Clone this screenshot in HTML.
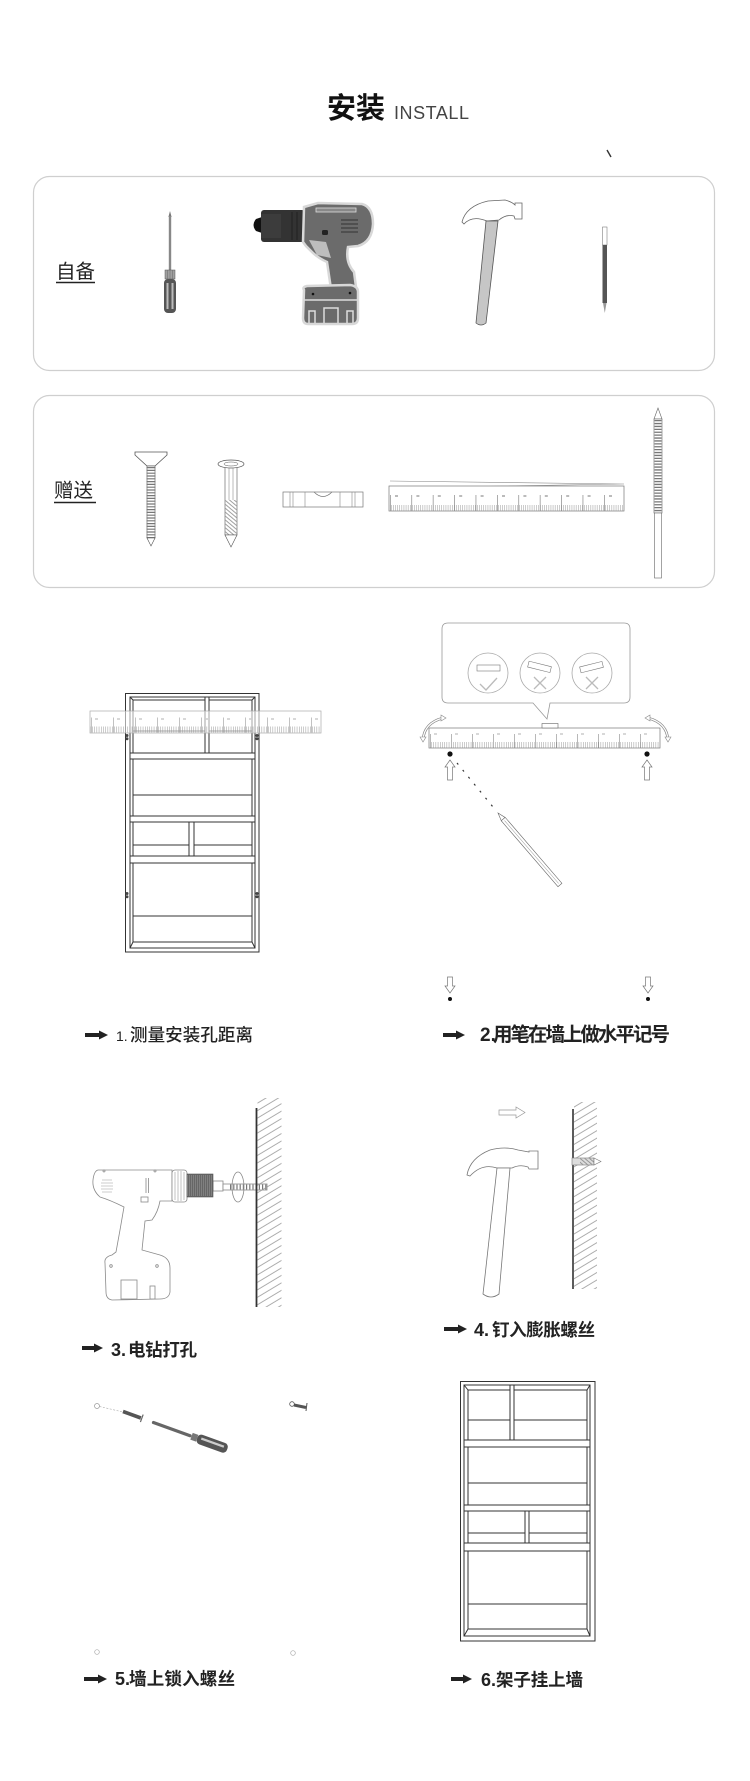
<!DOCTYPE html>
<html><head><meta charset="utf-8">
<style>
html,body{margin:0;padding:0;background:#fff;}
svg{display:block;}
text{font-family:"Liberation Sans","Noto Sans CJK SC",sans-serif;}
.cj{font-family:"Noto Sans CJK SC","WenQuanYi Zen Hei",sans-serif;}
</style></head><body>
<svg width="750" height="1781" viewBox="0 0 750 1781" xmlns="http://www.w3.org/2000/svg">
<defs>
 <pattern id="hatch" width="8" height="6.4" patternUnits="userSpaceOnUse" patternTransform="rotate(-31)">
  <line x1="0" y1="3" x2="8" y2="3" stroke="#999" stroke-width="0.8"/>
 </pattern>
 <pattern id="dh" width="3" height="3" patternUnits="userSpaceOnUse" patternTransform="rotate(40)">
  <line x1="0" y1="1.5" x2="3" y2="1.5" stroke="#777" stroke-width="0.7"/>
 </pattern>
</defs>

<!-- Title -->
<text x="327" y="118" font-size="29" font-weight="bold" fill="#111" class="cj">安装</text>
<text x="394" y="119" font-size="18" fill="#444" textLength="75">INSTALL</text>
<line x1="607" y1="150" x2="611" y2="157" stroke="#333" stroke-width="1.4"/>

<!-- Box 1 -->
<rect x="33.5" y="176.5" width="681" height="194" rx="16" fill="none" stroke="#cfcfcf" stroke-width="1.2"/>
<text x="56" y="278" font-size="19.5" fill="#222" class="cj">自备</text>
<line x1="56" y1="282.5" x2="95" y2="282.5" stroke="#222" stroke-width="1.5"/>

<!-- screwdriver -->
<path d="M170,211 L171.6,217 L168.4,217 Z" fill="#777"/>
<rect x="168.8" y="216" width="2.4" height="56" fill="#888"/>
<rect x="165" y="270" width="10" height="9" fill="#a0a0a0" stroke="#555" stroke-width="0.5"/>
<line x1="167.5" y1="270" x2="167.5" y2="279" stroke="#666" stroke-width="0.5"/>
<line x1="170" y1="270" x2="170" y2="279" stroke="#666" stroke-width="0.5"/>
<line x1="172.5" y1="270" x2="172.5" y2="279" stroke="#666" stroke-width="0.5"/>
<rect x="164" y="279" width="12" height="34" rx="4" fill="#555"/>
<rect x="166.5" y="283" width="2" height="26" fill="#bbb"/>
<rect x="171.5" y="283" width="2" height="26" fill="#bbb"/>

<!-- drill (box 1) -->
<path d="M262,217 L256,219 Q251,225 256,231 L262,233 Z" fill="#111"/>
<rect x="261" y="210" width="44" height="32" rx="3" fill="#333"/>
<rect x="261" y="214" width="20" height="24" fill="#3c3c3c"/>
<line x1="292" y1="212" x2="292" y2="240" stroke="#222" stroke-width="1"/>
<line x1="297" y1="212" x2="297" y2="240" stroke="#222" stroke-width="1"/>
<path d="M304,207 L318,203 L362,204 Q373,207 373,224 Q372,242 358,246 L348,247 Q345,262 354,272 L356,287 L331,289 L327,262 Q318,258 312,252 L306,246 L303,242 Z" fill="#6b6b6b" stroke="#d8d8d8" stroke-width="2.5"/>
<path d="M309,240 L326,242 L331,258 L317,255 Z" fill="#bdbdbd"/>
<rect x="316" y="208" width="40" height="4" fill="#888" stroke="#ddd" stroke-width="0.8"/>
<line x1="341" y1="220" x2="358" y2="220" stroke="#333" stroke-width="1"/>
<line x1="341" y1="224" x2="358" y2="224" stroke="#333" stroke-width="1"/>
<line x1="341" y1="228" x2="358" y2="228" stroke="#333" stroke-width="1"/>
<line x1="341" y1="232" x2="358" y2="232" stroke="#333" stroke-width="1"/>
<rect x="322" y="230" width="6" height="5" rx="1.5" fill="#222"/>
<path d="M304,290 Q302,287 307,286 L350,285 Q358,286 358,292 L358,318 Q358,324 352,324 L308,324 Q303,324 303,318 Z" fill="#6b6b6b" stroke="#d8d8d8" stroke-width="2.5"/>
<line x1="304" y1="300" x2="357" y2="300" stroke="#ddd" stroke-width="1.5"/>
<path d="M309,323 V311 H315 V323 M324,323 V308 H338 V323 M347,323 V311 H353 V323" fill="none" stroke="#ddd" stroke-width="1.5"/>
<circle cx="313" cy="294" r="1.3" fill="#111"/><circle cx="350" cy="293" r="1.3" fill="#111"/>

<!-- hammer (box 1) -->
<path d="M462,222 Q466,206 488,201 L505,200 Q512,202 515,205 L515,203 L522,203 L522,219 L515,219 L514,216 Q506,214 499,220 L487,221 Q472,215 464,224 Z" fill="#fff" stroke="#666" stroke-width="0.8"/>
<path d="M486,221 L498,221 L486,323 Q481,327 476,323 Z" fill="#c6c6c6" stroke="#555" stroke-width="0.8"/>

<!-- pencil -->
<rect x="602.5" y="227" width="4.5" height="18" fill="#fff" stroke="#666" stroke-width="0.5"/>
<rect x="602.5" y="245" width="4.5" height="58" fill="#555"/>
<path d="M603,303 L606.5,303 L604.8,313 Z" fill="#999"/>

<!-- Box 2 -->
<rect x="33.5" y="395.5" width="681" height="192" rx="16" fill="none" stroke="#cfcfcf" stroke-width="1.2"/>
<text x="54" y="497" font-size="19.5" fill="#222" class="cj">赠送</text>
<line x1="54" y1="502.5" x2="96" y2="502.5" stroke="#222" stroke-width="1.5"/>

<!-- screw -->
<path d="M135,452 L167,452 L167,455 L155,466 L147,466 L135,455 Z" fill="#fff" stroke="#555" stroke-width="0.8"/>
<rect x="147" y="466" width="8" height="72" fill="#fff" stroke="#555" stroke-width="0.6"/>
<line x1="151" y1="467" x2="151" y2="538" stroke="#777" stroke-width="9" stroke-dasharray="1.2 1.6"/>
<path d="M147,538 L155,538 L151,546 Z" fill="#fff" stroke="#555" stroke-width="0.6"/>

<!-- anchor -->
<rect x="225" y="467" width="12" height="68" fill="#fff" stroke="#555" stroke-width="0.6"/>
<rect x="225.5" y="500" width="11" height="35" fill="url(#dh)"/>
<line x1="229" y1="467" x2="229" y2="500" stroke="#777" stroke-width="0.5"/>
<line x1="233" y1="467" x2="233" y2="500" stroke="#777" stroke-width="0.5"/>
<ellipse cx="231" cy="464" rx="13" ry="4" fill="#fff" stroke="#555" stroke-width="0.7"/>
<ellipse cx="231" cy="464" rx="7" ry="2" fill="none" stroke="#555" stroke-width="0.5"/>
<path d="M225,535 L237,535 L231,547 Z" fill="#fff" stroke="#555" stroke-width="0.6"/>

<!-- level -->
<rect x="283" y="492" width="80" height="15" fill="#fff" stroke="#777" stroke-width="0.7"/>
<path d="M290,492 V507 M293,492 V507 M305,492 V507 M340,492 V507 M352,492 V507 M355,492 V507" stroke="#888" stroke-width="0.6"/>
<path d="M314,492 Q323,501 332,492" fill="none" stroke="#777" stroke-width="0.7"/>

<!-- ruler box2 -->
<path d="M390,481 L624,484 M390,488 L624,484" stroke="#888" stroke-width="0.6" fill="none"/>
<rect x="389" y="486" width="235" height="25" fill="#fff" stroke="#777" stroke-width="0.7"/>
<line x1="389" y1="508" x2="624" y2="508" stroke="#999" stroke-width="6" stroke-dasharray="0.5 1.6"/>
<line x1="390" y1="503" x2="624" y2="503" stroke="#888" stroke-width="16" stroke-dasharray="0.7 20.7"/>
<line x1="395" y1="496" x2="624" y2="496" stroke="#bbb" stroke-width="2" stroke-dasharray="3 18.4"/>

<!-- long drill bit -->
<path d="M658,408 L662,419 L654,419 Z" fill="#fff" stroke="#666" stroke-width="0.6"/>
<rect x="654" y="419" width="8" height="94" fill="#fff" stroke="#666" stroke-width="0.6"/>
<line x1="658" y1="420" x2="658" y2="512" stroke="#777" stroke-width="7" stroke-dasharray="1.3 1.6"/>
<rect x="654.5" y="513" width="7" height="65" fill="#fff" stroke="#666" stroke-width="0.6"/>

<!-- Step 1 cabinet -->
<g fill="none" stroke="#333" stroke-width="1">
<rect x="125.5" y="693.5" width="133.5" height="258.5" fill="#fff"/>
<rect x="130" y="697" width="125" height="251"/>
<rect x="133" y="700" width="119" height="242"/>
<path d="M130,697 L133,700 M255,697 L252,700 M130,948 L133,942 M255,948 L252,942"/>
<line x1="133" y1="731" x2="252" y2="731"/>
<line x1="133" y1="795" x2="252" y2="795"/>
<line x1="133" y1="845" x2="252" y2="845"/>
<line x1="133" y1="916" x2="252" y2="916"/>
<rect x="205" y="697" width="4" height="56" fill="#fff"/>
<rect x="130" y="753" width="125" height="6" fill="#fff"/>
<rect x="130" y="816" width="125" height="6" fill="#fff"/>
<rect x="189" y="822" width="5" height="34" fill="#fff"/>
<rect x="130" y="856" width="125" height="7" fill="#fff"/>
</g>
<g fill="#444">
<circle cx="127" cy="735.5" r="1.5"/><circle cx="127" cy="738.8" r="1.5"/>
<circle cx="257" cy="735.5" r="1.5"/><circle cx="257" cy="738.8" r="1.5"/>
<circle cx="127" cy="893.5" r="1.5"/><circle cx="127" cy="896.8" r="1.5"/>
<circle cx="257" cy="893.5" r="1.5"/><circle cx="257" cy="896.8" r="1.5"/>
</g>
<!-- ruler step1 -->
<rect x="90" y="711" width="231" height="22" fill="#fff" fill-opacity="0.55" stroke="#aaa" stroke-width="0.7"/>
<line x1="90" y1="729.5" x2="321" y2="729.5" stroke="#999" stroke-width="6" stroke-dasharray="0.5 1.7"/>
<line x1="91" y1="725" x2="321" y2="725" stroke="#999" stroke-width="15" stroke-dasharray="0.6 21.4"/>
<line x1="95" y1="719" x2="321" y2="719" stroke="#ccc" stroke-width="1.5" stroke-dasharray="3 19"/>

<!-- Step 1 label -->
<path d="M85,1033 L99,1033 L99,1030.5 L108,1035 L99,1039.5 L99,1037 L85,1037 Z" fill="#222"/>
<text x="116" y="1041" font-size="14" fill="#222">1.</text>
<text x="130" y="1041" font-size="17.5" font-weight="500" fill="#222" class="cj" textLength="123">测量安装孔距离</text>

<!-- Step 2 -->
<path d="M448,623 H624 Q630,623 630,629 V697 Q630,703 624,703 H550 L547,719 L533,703 H448 Q442,703 442,697 V629 Q442,623 448,623 Z" fill="#fff" stroke="#999" stroke-width="0.8"/>
<g fill="none" stroke="#aaa" stroke-width="0.8">
<circle cx="488" cy="673" r="20"/>
<circle cx="540" cy="673" r="20"/>
<circle cx="592" cy="673" r="20"/>
</g>
<g fill="#fff" stroke="#777" stroke-width="0.6">
<rect x="477" y="665" width="23" height="6"/>
<g transform="rotate(14 540 667)"><rect x="528" y="664" width="23" height="6"/></g>
<g transform="rotate(-14 592 667)"><rect x="580" y="664" width="23" height="6"/></g>
</g>
<path d="M480,684 L486,690 L497,678" fill="none" stroke="#bbb" stroke-width="1.3"/>
<path d="M534,677 L546,689 M546,677 L534,689" stroke="#bbb" stroke-width="1.3"/>
<path d="M586,677 L598,689 M598,677 L586,689" stroke="#bbb" stroke-width="1.3"/>
<rect x="429" y="728" width="231" height="20" fill="#fff" stroke="#777" stroke-width="0.7"/>
<line x1="429" y1="745" x2="660" y2="745" stroke="#999" stroke-width="6" stroke-dasharray="0.5 1.7"/>
<line x1="430" y1="741" x2="660" y2="741" stroke="#888" stroke-width="14" stroke-dasharray="0.6 20.4"/>
<line x1="434" y1="734" x2="660" y2="734" stroke="#ccc" stroke-width="1.5" stroke-dasharray="3 18"/>
<rect x="542" y="723.5" width="16" height="4.5" fill="#fff" stroke="#666" stroke-width="0.6"/>
<path d="M423,740 Q424,723 443,718" fill="none" stroke="#888" stroke-width="2.6"/>
<path d="M423,740 Q424,723 443,718" fill="none" stroke="#fff" stroke-width="1.2"/>
<path d="M420,737 L423,742 L426,737 Z M441,715 L446,718 L441,721 Z" fill="#fff" stroke="#888" stroke-width="0.6"/>
<path d="M668,740 Q667,723 648,718" fill="none" stroke="#888" stroke-width="2.6"/>
<path d="M668,740 Q667,723 648,718" fill="none" stroke="#fff" stroke-width="1.2"/>
<path d="M671,737 L668,742 L665,737 Z M650,715 L645,718 L650,721 Z" fill="#fff" stroke="#888" stroke-width="0.6"/>
<circle cx="450" cy="754" r="2.6" fill="#111"/>
<circle cx="647" cy="754" r="2.6" fill="#111"/>
<path d="M450,760 L455,767 L452.5,767 L452.5,780 L447.5,780 L447.5,767 L445,767 Z" fill="#fff" stroke="#777" stroke-width="0.7"/>
<path d="M647,760 L652,767 L649.5,767 L649.5,780 L644.5,780 L644.5,767 L642,767 Z" fill="#fff" stroke="#777" stroke-width="0.7"/>
<line x1="457" y1="763" x2="493" y2="807" stroke="#333" stroke-width="1.2" stroke-dasharray="2 7"/>
<g transform="translate(498,813) rotate(49.3)">
<path d="M0,0 L8,-2.5 L8,2.5 Z" fill="#fff" stroke="#666" stroke-width="0.6"/>
<rect x="8" y="-2.6" width="87" height="5.2" fill="#fff" stroke="#666" stroke-width="0.6"/>
<line x1="10" y1="0" x2="93" y2="0" stroke="#999" stroke-width="0.5"/>
</g>
<path d="M447.5,977 H452.5 V986 H455 L450,993 L445,986 H447.5 Z" fill="#fff" stroke="#777" stroke-width="0.7"/>
<path d="M645.5,977 H650.5 V986 H653 L648,993 L643,986 H645.5 Z" fill="#fff" stroke="#777" stroke-width="0.7"/>
<circle cx="450" cy="999" r="2" fill="#111"/>
<circle cx="648" cy="999" r="2" fill="#111"/>

<!-- Step 2 label -->
<path d="M443,1033 L456,1033 L456,1030.5 L465,1035 L456,1039.5 L456,1037 L443,1037 Z" fill="#222"/>
<text x="480" y="1041" font-size="19" font-weight="bold" fill="#222">2.</text>
<text x="493" y="1041" font-size="19.5" font-weight="bold" fill="#222" class="cj" textLength="177">用笔在墙上做水平记号</text>

<!-- Step 3 drill outline -->
<g fill="#fff" stroke="#8a8a8a" stroke-width="0.8">
<path d="M98,1170 L172,1170 L172,1201 L160,1201 Q158,1212 152,1220 L145,1221 L142,1250 L160,1255 Q170,1258 170,1268 L170,1292 Q169,1299 160,1299 L112,1300 Q106,1299 106,1292 L105,1263 Q104,1257 112,1255 L116,1252 L120,1230 L124,1207 Q110,1200 100,1197 Q92,1190 93,1180 Q94,1171 98,1170 Z"/>
<rect x="121" y="1280" width="16" height="19"/>
<rect x="150" y="1286" width="5" height="13"/>
<rect x="141" y="1197" width="7" height="5"/>
<circle cx="111" cy="1266" r="1.3"/>
<circle cx="157" cy="1266" r="1.3"/>
<circle cx="104" cy="1171" r="1"/>
<circle cx="155" cy="1171" r="1"/>
<rect x="172" y="1170" width="15" height="32" rx="3"/>
<rect x="213" y="1181" width="10" height="10"/>
<rect x="223" y="1184" width="44" height="6"/>
</g>
<path d="M102,1180 H112 M101,1183 H113 M101,1186 H113 M101,1189 H113 M102,1192 H112" stroke="#999" stroke-width="0.6"/>
<path d="M146,1178 V1193 M148.5,1178 V1193" stroke="#888" stroke-width="0.8"/>
<path d="M175,1172 V1200 M178,1171 V1201 M181,1171 V1201 M184,1172 V1200" stroke="#999" stroke-width="0.6"/>
<rect x="187" y="1174" width="26" height="23" fill="#666" stroke="#555" stroke-width="0.6"/>
<line x1="187" y1="1185.5" x2="213" y2="1185.5" stroke="#999" stroke-width="21" stroke-dasharray="0.5 1.5"/>
<line x1="230" y1="1187" x2="267" y2="1187" stroke="#777" stroke-width="5" stroke-dasharray="1.2 2"/>
<ellipse cx="238" cy="1187" rx="6" ry="15" fill="none" stroke="#888" stroke-width="0.8"/>
<!-- wall 3 -->
<rect x="257.5" y="1098" width="24" height="209" fill="url(#hatch)"/>
<line x1="256.5" y1="1108" x2="256.5" y2="1307" stroke="#333" stroke-width="1.8"/>

<!-- Step 3 label -->
<path d="M82,1346 L94,1346 L94,1343.5 L103,1348 L94,1352.5 L94,1350 L82,1350 Z" fill="#222"/>
<text x="111" y="1356" font-size="18" font-weight="bold" fill="#222">3.</text>
<text x="128" y="1356" font-size="17.5" font-weight="bold" fill="#222" class="cj" textLength="69">电钻打孔</text>

<!-- Step 4 -->
<path d="M499,1110 H516 V1107 L525,1112.5 L516,1118 V1115 H499 Z" fill="#fff" stroke="#999" stroke-width="0.7"/>
<rect x="574" y="1102" width="23" height="187" fill="url(#hatch)"/>
<line x1="573" y1="1109" x2="573" y2="1289" stroke="#333" stroke-width="1.6"/>
<rect x="572" y="1158" width="22" height="7" fill="#ddd" stroke="#777" stroke-width="0.6"/>
<rect x="580" y="1158.5" width="14" height="6" fill="url(#dh)"/>
<path d="M594,1158 L601,1161.5 L594,1165 Z" fill="#fff" stroke="#777" stroke-width="0.6"/>
<path d="M467,1175 Q470,1158 490,1150 Q505,1146 518,1150 L529,1152 L529,1151 L538,1151 L538,1169 L529,1169 L528,1167 Q520,1164 512,1168 L497,1168 Q482,1163 470,1176 Z" fill="#fff" stroke="#777" stroke-width="0.8"/>
<path d="M497,1168 L510,1168 L499,1294 Q491,1300 483,1294 Z" fill="#fff" stroke="#777" stroke-width="0.8"/>

<!-- Step 4 label -->
<path d="M444,1327 L458,1327 L458,1324.5 L467,1329 L458,1333.5 L458,1331 L444,1331 Z" fill="#222"/>
<text x="474" y="1336" font-size="18" font-weight="bold" fill="#222">4.</text>
<text x="492" y="1336" font-size="17.5" font-weight="bold" fill="#222" class="cj" textLength="103">钉入膨胀螺丝</text>

<!-- Step 5 -->
<circle cx="97" cy="1406" r="2.5" fill="none" stroke="#999" stroke-width="0.7"/>
<line x1="99.5" y1="1406.5" x2="123" y2="1412" stroke="#aaa" stroke-width="0.6" stroke-dasharray="2 1.5"/>
<g transform="translate(123,1411.5) rotate(20)">
<rect x="0" y="-1.8" width="19" height="3.6" fill="#555"/>
<line x1="20" y1="-4" x2="20" y2="4" stroke="#666" stroke-width="1.2"/>
</g>
<g transform="translate(152,1422) rotate(19.8)">
<rect x="0" y="-1.6" width="42" height="3.2" rx="1.5" fill="#666"/>
<rect x="42" y="-3.6" width="6" height="7.2" fill="#777"/>
<rect x="48" y="-5" width="32" height="10" rx="4" fill="#555"/>
<rect x="52" y="-2.2" width="24" height="2.2" fill="#ccc"/>
</g>
<circle cx="292" cy="1404" r="2.3" fill="#fff" stroke="#555" stroke-width="0.8"/>
<line x1="294" y1="1405" x2="306" y2="1407.5" stroke="#555" stroke-width="3"/>
<line x1="307" y1="1403" x2="306" y2="1411" stroke="#555" stroke-width="1"/>
<circle cx="97" cy="1652" r="2.3" fill="none" stroke="#aaa" stroke-width="0.7"/>
<circle cx="293" cy="1653" r="2.3" fill="none" stroke="#aaa" stroke-width="0.7"/>

<!-- Step 5 label -->
<path d="M84,1677 L98,1677 L98,1674.5 L107,1679 L98,1683.5 L98,1681 L84,1681 Z" fill="#222"/>
<text x="115" y="1685" font-size="18" font-weight="bold" fill="#222">5.</text>
<text x="129" y="1685" font-size="17.5" font-weight="bold" fill="#222" class="cj" textLength="106">墙上锁入螺丝</text>

<!-- Step 6 cabinet -->
<g fill="none" stroke="#333" stroke-width="1">
<rect x="460.5" y="1381.5" width="134.5" height="259.5" fill="#fff"/>
<rect x="464" y="1385" width="126" height="251"/>
<rect x="468" y="1390" width="119" height="239"/>
<path d="M464,1385 L468,1390 M590,1385 L587,1390 M464,1636 L468,1629 M590,1636 L587,1629"/>
<line x1="468" y1="1420" x2="587" y2="1420"/>
<line x1="468" y1="1483" x2="587" y2="1483"/>
<line x1="468" y1="1533" x2="587" y2="1533"/>
<line x1="468" y1="1604" x2="587" y2="1604"/>
<rect x="510" y="1385" width="4" height="55" fill="#fff"/>
<rect x="464" y="1440" width="126" height="7" fill="#fff"/>
<rect x="464" y="1505" width="126" height="6" fill="#fff"/>
<rect x="525" y="1511" width="4" height="32" fill="#fff"/>
<rect x="464" y="1543" width="126" height="8" fill="#fff"/>
</g>

<!-- Step 6 label -->
<path d="M451,1677 L463,1677 L463,1674.5 L472,1679 L463,1683.5 L463,1681 L451,1681 Z" fill="#222"/>
<text x="481" y="1686" font-size="18" font-weight="bold" fill="#222">6.</text>
<text x="496" y="1686" font-size="17.5" font-weight="bold" fill="#222" class="cj" textLength="87">架子挂上墙</text>

</svg>
</body></html>
